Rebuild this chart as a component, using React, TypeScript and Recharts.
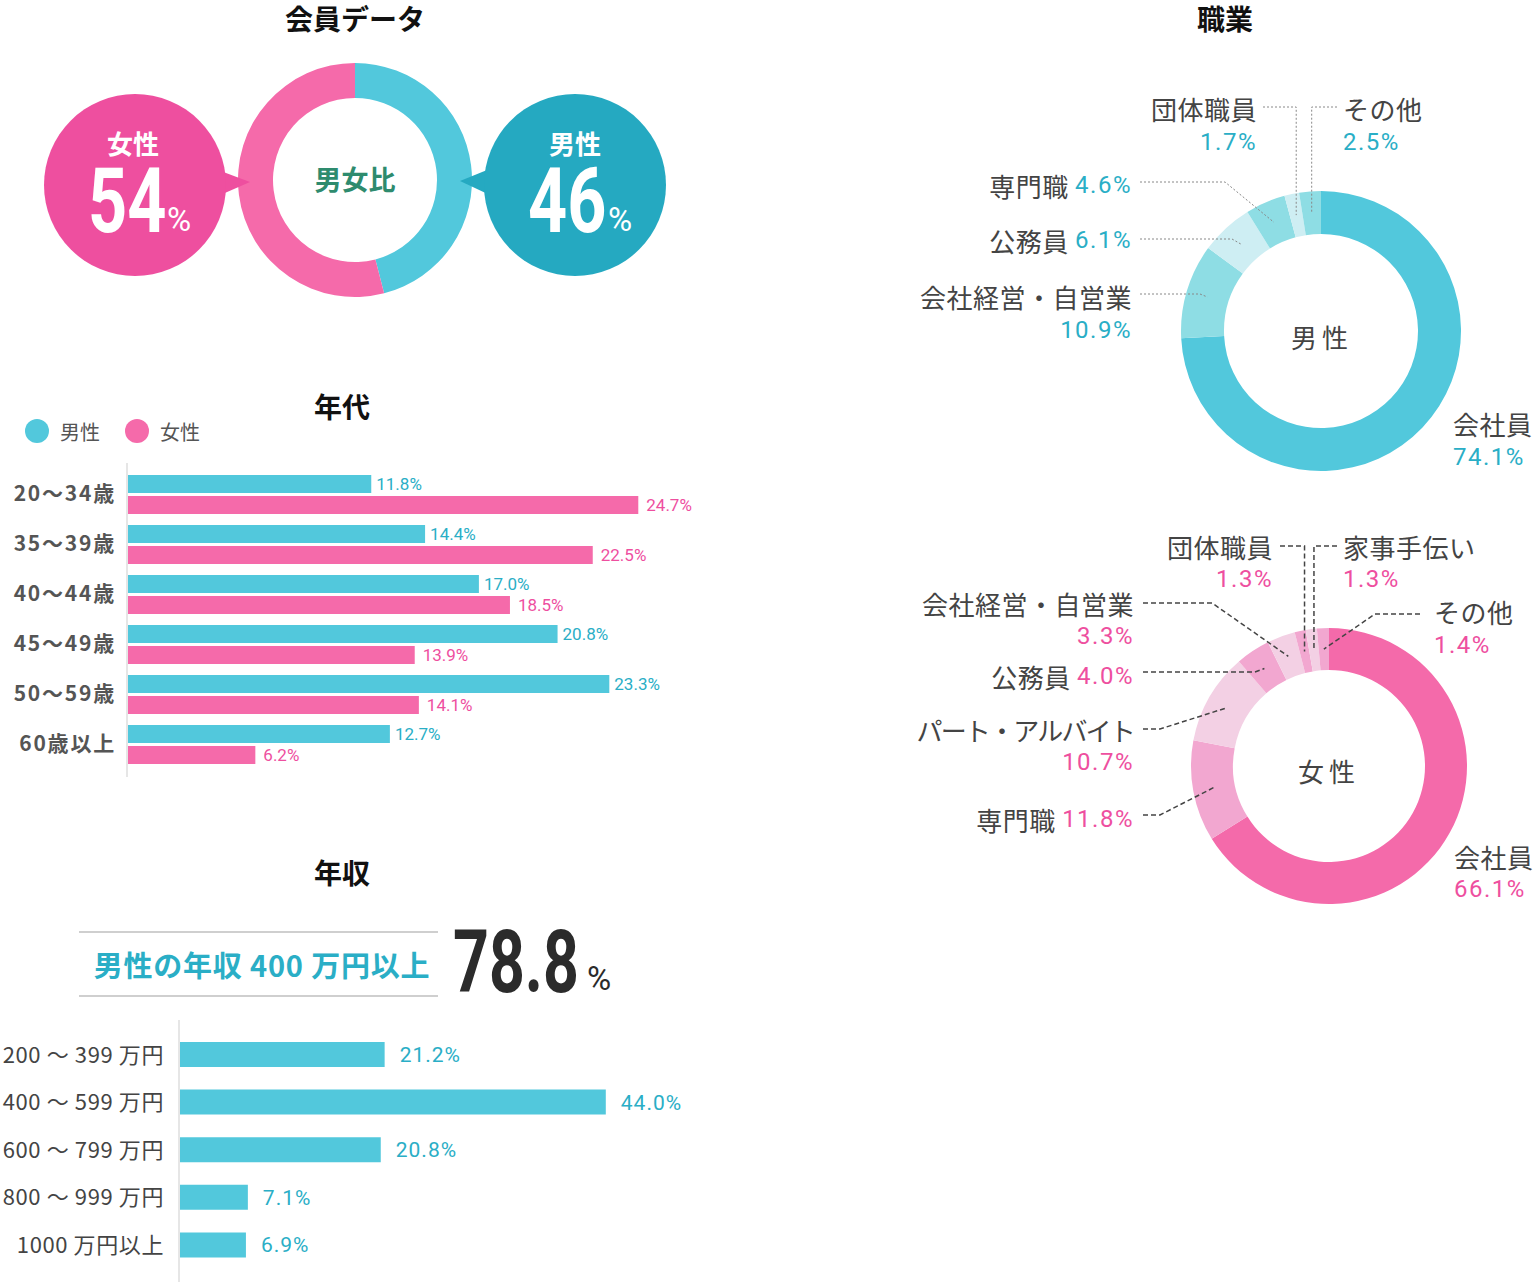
import { BarChart, Bar, XAxis, YAxis, LabelList, PieChart, Pie, Cell } from 'recharts'

const JP = '"Noto Sans CJK JP", "Noto Sans", sans-serif'
const NUM = 'Roboto, "Noto Sans CJK JP", sans-serif'

const CYAN = '#52c8dc'
const CYAN_TEXT = '#2aaec6'
const PINK = '#f56aaa'
const PINK_TEXT = '#ee4f9f'
const DARK = '#444'

// 会員データ
const genderNames = ['男性', '女性']
const genderValues = [46, 54]

// 年代
const ageGroups = ['20〜34歳', '35〜39歳', '40〜44歳', '45〜49歳', '50〜59歳', '60歳以上']
const ageMale = [11.8, 14.4, 17.0, 20.8, 23.3, 12.7]
const ageFemale = [24.7, 22.5, 18.5, 13.9, 14.1, 6.2]

// 年収
const incomeRanges = ['200 〜 399 万円', '400 〜 599 万円', '600 〜 799 万円', '800 〜 999 万円', '1000 万円以上']
const incomeMale = [21.2, 44.0, 20.8, 7.1, 6.9]
const over400 = 78.8

// 職業
const maleJobNames = ['会社員', '会社経営・自営業', '公務員', '専門職', '団体職員', 'その他']
const maleJobValues = [74.1, 10.9, 6.1, 4.6, 1.7, 2.5]
const femaleJobNames = ['会社員', '専門職', 'パート・アルバイト', '公務員', '会社経営・自営業', '団体職員', '家事手伝い', 'その他']
const femaleJobValues = [66.1, 11.8, 10.7, 4.0, 3.3, 1.3, 1.3, 1.4]

const maleJobColors = ['#52c8dc', '#8edde4', '#ceeef3', '#8edde4', '#ceeef3', '#8edde4']
const femaleJobColors = ['#f46aaa', '#f2a7d0', '#f3d0e4', '#f2a7d0', '#f3d0e4', '#f2a7d0', '#f3d0e4', '#f2a7d0']

const pct = (v: any) => `${Number(v).toFixed(1)}%`

const genderData = genderNames.map((name, i) => ({ name, value: genderValues[i] }))
const ageData = ageGroups.map((group, i) => ({ group, male: ageMale[i], female: ageFemale[i] }))
const incomeData = incomeRanges.map((range, i) => ({ range, male: incomeMale[i] }))
const maleJobData = maleJobNames.map((name, i) => ({ name, value: maleJobValues[i] }))
const femaleJobData = femaleJobNames.map((name, i) => ({ name, value: femaleJobValues[i] }))

// label placement (page coordinates)
type LabelSpec = {
  anchor: 'start' | 'end'
  x: number
  ny: number
  vy?: number
  inline?: boolean
  ls?: number
  line?: { sx: number; sy: number; ex?: number }
}

const maleLabels: LabelSpec[] = [
  { anchor: 'start', x: 1453, ny: 423, vy: 457 },
  { anchor: 'end', x: 1132, ny: 296, vy: 330, line: { sx: 1140, sy: 294, ex: 1200 } },
  { anchor: 'end', x: 1132, ny: 240, inline: true, line: { sx: 1140, sy: 239, ex: 1232 } },
  { anchor: 'end', x: 1132, ny: 185, inline: true, line: { sx: 1140, sy: 182, ex: 1225 } },
  { anchor: 'end', x: 1257, ny: 108, vy: 142, line: { sx: 1263, sy: 107 } },
  { anchor: 'start', x: 1343, ny: 108, vy: 142, line: { sx: 1337, sy: 107 } },
]

const femaleLabels: LabelSpec[] = [
  { anchor: 'start', x: 1454, ny: 856, vy: 889 },
  { anchor: 'end', x: 1134, ny: 819, inline: true, line: { sx: 1143, sy: 815, ex: 1160 } },
  { anchor: 'end', x: 1134, ny: 729, vy: 762, ls: -1.8, line: { sx: 1143, sy: 729, ex: 1160 } },
  { anchor: 'end', x: 1134, ny: 676, inline: true, line: { sx: 1143, sy: 672, ex: 1255 } },
  { anchor: 'end', x: 1134, ny: 603, vy: 636, line: { sx: 1143, sy: 603, ex: 1212 } },
  { anchor: 'end', x: 1273, ny: 546, vy: 579, line: { sx: 1280, sy: 546 } },
  { anchor: 'start', x: 1343, ny: 546, vy: 579, line: { sx: 1337, sy: 546 } },
  { anchor: 'start', x: 1434, ny: 611, vy: 645, line: { sx: 1420, sy: 614, ex: 1375 } },
]

const RAD = Math.PI / 180
const NO_MARGIN = { top: 0, right: 0, bottom: 0, left: 0 }

function makeLabel(specs: LabelSpec[], ox: number, oy: number, valueColor: string, lineStyle: any) {
  return (props: any) => {
    const s = specs[props.index]
    if (!s) return null
    const r = (props.innerRadius + props.outerRadius) / 2
    const px = props.cx + r * Math.cos(-props.midAngle * RAD)
    const py = props.cy + r * Math.sin(-props.midAngle * RAD)
    const x = s.x - ox
    const nameStyle = { fontFamily: JP, fontSize: 26, fill: DARK, letterSpacing: s.ls ?? 0.5 }
    const valStyle = { fontFamily: NUM, fontSize: 24, fill: valueColor, letterSpacing: 1.5 }
    let path = null
    if (s.line) {
      const sx = s.line.sx - ox
      const sy = s.line.sy - oy
      const ex = s.line.ex !== undefined ? s.line.ex - ox : px
      path = <path d={`M${sx},${sy}L${ex},${sy}L${px},${py}`} fill="none" {...lineStyle} />
    }
    return (
      <g key={`lbl-${props.index}`}>
        {path}
        {s.inline ? (
          <text x={x} y={s.ny - oy} textAnchor={s.anchor} dominantBaseline="central">
            <tspan {...nameStyle}>{props.name} </tspan>
            <tspan {...valStyle}>{pct(props.value)}</tspan>
          </text>
        ) : (
          <>
            <text x={x} y={s.ny - oy} textAnchor={s.anchor} dominantBaseline="central" {...nameStyle}>
              {props.name}
            </text>
            <text x={x} y={(s.vy ?? s.ny) - oy} textAnchor={s.anchor} dominantBaseline="central" {...valStyle}>
              {pct(props.value)}
            </text>
          </>
        )}
      </g>
    )
  }
}

const abs = (left: number, top: number): React.CSSProperties => ({ position: 'absolute', left, top })

function Title({ x, y, children }: { x: number; y: number; children: string }) {
  return (
    <text x={x} y={y} textAnchor="middle" dominantBaseline="central" fontFamily={JP} fontSize={28} fontWeight={700} fill="#111">
      {children}
    </text>
  )
}

export default function App() {
  return (
    <div style={{ position: 'absolute', left: 0, top: 0, width: 1533, height: 1283, background: '#fff', overflow: 'hidden' }}>
      {/* 男女比 donut */}
      <div style={abs(230, 55)}>
        <PieChart width={250} height={250} margin={NO_MARGIN}>
          <Pie data={genderData} dataKey="value" nameKey="name" cx={125} cy={125} innerRadius={82} outerRadius={117}
            startAngle={90} endAngle={-270} stroke="none" isAnimationActive={false}>
            <Cell fill={CYAN} />
            <Cell fill={PINK} />
          </Pie>
        </PieChart>
      </div>

      {/* 年代 */}
      <div style={abs(0, 463)}>
        <BarChart width={760} height={314} data={ageData} layout="vertical"
          margin={{ top: 0, right: 12, bottom: 0, left: 0 }} barSize={18} barGap={3}>
          <XAxis type="number" domain={[0, 30]} hide />
          <YAxis type="category" dataKey="group" width={127} padding={{ top: 6, bottom: 8 }}
            tickLine={false} tickSize={6} tickMargin={5}
            axisLine={{ stroke: '#e6e6e6', strokeWidth: 2 }}
            tick={{ fontSize: 21, fill: '#555', fontWeight: 700, fontFamily: JP, letterSpacing: 1.8 }} />
          <Bar dataKey="male" fill={CYAN} isAnimationActive={false}>
            <LabelList dataKey="male" position="right" offset={5} formatter={pct}
              fill={CYAN_TEXT} fontSize={17} fontFamily={NUM} />
          </Bar>
          <Bar dataKey="female" fill={PINK} isAnimationActive={false}>
            <LabelList dataKey="female" position="right" offset={8} formatter={pct}
              fill={PINK_TEXT} fontSize={17} fontFamily={NUM} />
          </Bar>
        </BarChart>
      </div>

      {/* 年収 */}
      <div style={abs(0, 1020)}>
        <BarChart width={724} height={262} data={incomeData} layout="vertical"
          margin={{ top: 0, right: 60, bottom: 0, left: 0 }} barSize={25}>
          <XAxis type="number" domain={[0, 50]} hide />
          <YAxis type="category" dataKey="range" width={179} padding={{ top: 11, bottom: 13 }}
            tickLine={false} tickSize={6} tickMargin={9}
            axisLine={{ stroke: '#e6e6e6', strokeWidth: 2 }}
            tick={{ fontSize: 22, fill: DARK, fontFamily: JP, letterSpacing: 0.6 }} />
          <Bar dataKey="male" fill={CYAN} isAnimationActive={false}>
            <LabelList dataKey="male" position="right" offset={15} formatter={pct}
              fill={CYAN_TEXT} fontSize={21} fontFamily={NUM} letterSpacing={1} />
          </Bar>
        </BarChart>
      </div>

      {/* 職業 男性 */}
      <div style={abs(860, 60)}>
        <PieChart width={673} height={440} margin={NO_MARGIN}>
          <Pie data={maleJobData} dataKey="value" nameKey="name" cx={461} cy={271} innerRadius={97} outerRadius={140}
            startAngle={90} endAngle={-270} stroke="none" isAnimationActive={false} labelLine={false}
            label={makeLabel(maleLabels, 860, 60, CYAN_TEXT, { stroke: '#888', strokeDasharray: '2 2', strokeWidth: 1 })}>
            {maleJobData.map((_, i) => <Cell key={i} fill={maleJobColors[i]} />)}
          </Pie>
        </PieChart>
      </div>

      {/* 職業 女性 */}
      <div style={abs(860, 500)}>
        <PieChart width={673} height={420} margin={NO_MARGIN}>
          <Pie data={femaleJobData} dataKey="value" nameKey="name" cx={469} cy={266} innerRadius={96} outerRadius={138}
            startAngle={90} endAngle={-270} stroke="none" isAnimationActive={false} labelLine={false}
            label={makeLabel(femaleLabels, 860, 500, PINK_TEXT, { stroke: '#444', strokeDasharray: '5 3', strokeWidth: 1.5 })}>
            {femaleJobData.map((_, i) => <Cell key={i} fill={femaleJobColors[i]} />)}
          </Pie>
        </PieChart>
      </div>

      {/* overlay: titles, bubbles, legend, highlight */}
      <svg width={1533} height={1283} style={{ position: 'absolute', left: 0, top: 0, pointerEvents: 'none' }}>
        <Title x={355} y={18}>会員データ</Title>
        <Title x={1225} y={18}>職業</Title>
        <Title x={342} y={406}>年代</Title>
        <Title x={342} y={872}>年収</Title>

        <text x={355} y={178} textAnchor="middle" dominantBaseline="central" fontFamily={JP} fontSize={27} fontWeight={700} fill="#2e8b6e">男女比</text>

        {/* female bubble */}
        <polygon points="218,170 250,182 218,196" fill="#ee4f9f" />
        <circle cx={135} cy={185} r={91} fill="#ee4f9f" />
        <text x={133} y={142} textAnchor="middle" dominantBaseline="central" fontFamily={JP} fontSize={26} fontWeight={700} fill="#fff">{genderNames[1]}</text>
        <text transform="translate(88,232) scale(0.76,1)" fontFamily={NUM} fontSize={90} fontWeight={700} fill="#fff">{genderValues[1]}</text>
        <text x={167} y={231} fontFamily={NUM} fontSize={33} fill="#fff">%</text>

        {/* male bubble */}
        <polygon points="492,168 460,181 492,196" fill="#25a9c1" />
        <circle cx={575} cy={185} r={91} fill="#25a9c1" />
        <text x={575} y={142} textAnchor="middle" dominantBaseline="central" fontFamily={JP} fontSize={26} fontWeight={700} fill="#fff">{genderNames[0]}</text>
        <text transform="translate(528,232) scale(0.76,1)" fontFamily={NUM} fontSize={90} fontWeight={700} fill="#fff">{genderValues[0]}</text>
        <text x={608} y={231} fontFamily={NUM} fontSize={33} fill="#fff">%</text>

        {/* age legend */}
        <circle cx={37} cy={431} r={12} fill={CYAN} />
        <text x={60} y={431} dominantBaseline="central" fontFamily={JP} fontSize={20} fill="#555">男性</text>
        <circle cx={137} cy={431} r={12} fill={PINK} />
        <text x={160} y={431} dominantBaseline="central" fontFamily={JP} fontSize={20} fill="#555">女性</text>

        {/* income highlight */}
        <line x1={79} x2={438} y1={932} y2={932} stroke="#cfcfcf" strokeWidth={2} />
        <line x1={79} x2={438} y1={996} y2={996} stroke="#cfcfcf" strokeWidth={2} />
        <text x={262} y={964} textAnchor="middle" dominantBaseline="central" fontFamily={JP} fontSize={29} fontWeight={700} fill={CYAN_TEXT} letterSpacing={0.8}>男性の年収 400 万円以上</text>
        <text transform="translate(453,992) scale(0.72,1)" fontFamily={NUM} fontSize={87} fontWeight={700} fill="#2b2b2b">{over400.toFixed(1)}</text>
        <text x={587} y={990} fontFamily={NUM} fontSize={33} fill="#2b2b2b">%</text>

        {/* occupation centers */}
        <text x={1322} y={336} textAnchor="middle" dominantBaseline="central" fontFamily={JP} fontSize={26} fill={DARK} letterSpacing={5}>男性</text>
        <text x={1329} y={770} textAnchor="middle" dominantBaseline="central" fontFamily={JP} fontSize={26} fill={DARK} letterSpacing={5}>女性</text>
      </svg>
    </div>
  )
}
